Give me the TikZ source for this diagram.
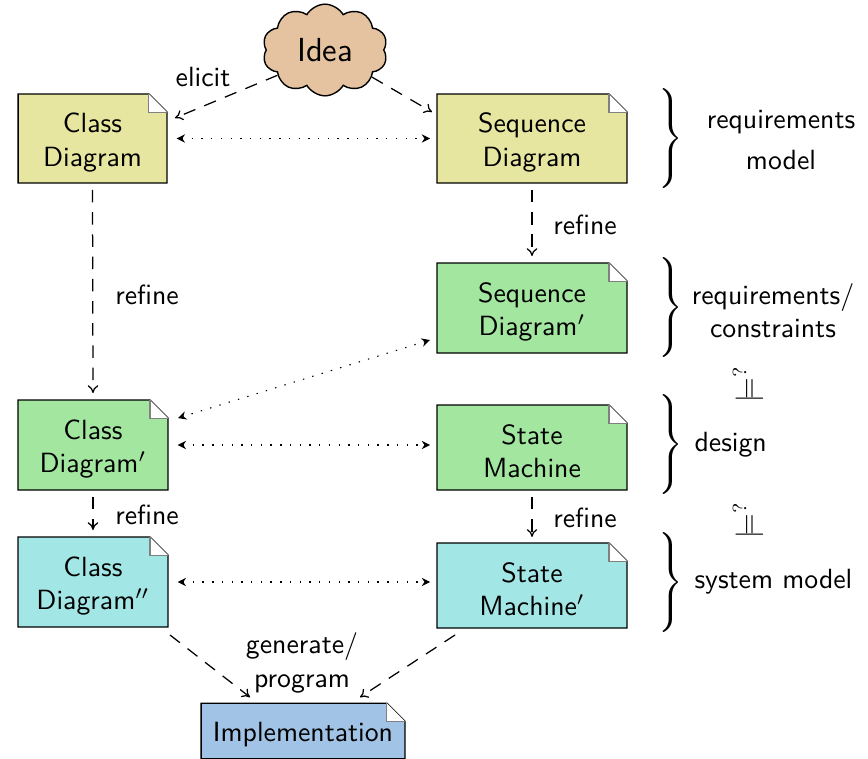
\documentclass[tikz,border=0pt]{standalone}
\usetikzlibrary{shapes.symbols,arrows.meta,backgrounds}
\definecolor{cyel}{RGB}{230,230,160}
\definecolor{cgrn}{RGB}{163,230,160}
\definecolor{ccyn}{RGB}{163,230,230}
\definecolor{cblu}{RGB}{160,195,230}
\definecolor{cpch}{RGB}{230,195,160}
\def\dogear{6.5pt}
\newcommand\docnode[6]{%
  \node[docbox, minimum width=#3, minimum height=#4] (#1) at #2 {};
  \node[doctext] (#1-t) at ([yshift=-1.4pt]#1.center) {#6};
  \begin{pgfonlayer}{background}
    \filldraw[fill=#5, draw=black, line width=0.5pt] (#1.north west) -- ([xshift=-\dogear]#1.north east) -- ([yshift=-\dogear]#1.north east) -- (#1.south east) -- (#1.south west) -- cycle;
    \filldraw[fill=white, draw=gray, thin] ([xshift=-\dogear]#1.north east) -- ([xshift=-\dogear,yshift=-\dogear]#1.north east) -- ([yshift=-\dogear]#1.north east);
  \end{pgfonlayer}}
\tikzset{
  docbox/.style={inner sep=0pt, outer sep=0pt},
  doctext/.style={align=center, font=\sffamily, inner sep=0pt, outer sep=0pt},
  lbl/.style={align=center, font=\sffamily, inner sep=0pt},
  flow/.style={-{To[length=2.8pt,width=3.8pt]}, line width=0.45pt, dash pattern=on 4.5pt off 3.5pt},
  link/.style={{Stealth[length=3pt,width=3pt]}-{Stealth[length=3pt,width=3pt]}, thin, dash pattern=on 0.5pt off 3pt},
  bracenode/.style={inner sep=0pt},
  modelsym/.style={inner sep=0pt}
}
\newcommand\bigbrace{$\left.\vrule height 16.5pt depth 16.5pt width 0pt\right\}$}
\begin{document}
\begin{tikzpicture}[x=0.36pt, y=-0.36pt]
\useasboundingbox (0,0) rectangle (868,758);
% idea cloud
\node[cloud, cloud puffs=10, cloud puff arc=120, aspect=1.4, draw, line width=0.5pt, fill=cpch,
      minimum width=45pt, minimum height=33pt, inner sep=0pt, font=\sffamily\large] (idea) at (325,50) {Idea};
% documents
\docnode{cd}{(92.5,138.5)}{53.6pt}{32pt}{cyel}{Class\\Diagram}
\docnode{sd}{(532,138.5)}{68.4pt}{32pt}{cyel}{Sequence\\Diagram}
\docnode{sdp}{(532,308)}{68.4pt}{32.4pt}{cgrn}{Sequence\\Diagram$'$}
\docnode{cdp}{(93,445)}{54pt}{32.4pt}{cgrn}{Class\\Diagram$'$}
\docnode{sm}{(532,447.5)}{68.4pt}{30.6pt}{cgrn}{State\\Machine}
\docnode{cdpp}{(93,582)}{54pt}{32.4pt}{ccyn}{Class\\Diagram$''$}
\docnode{smp}{(532,585.5)}{68.4pt}{30.6pt}{ccyn}{State\\Machine$'$}
\docnode{impl}{(303,731)}{73.4pt}{20pt}{cblu}{Implementation}
% connectors
\draw[flow] (idea.208) -- ([shift={(8,-20.5)}]cd.east);
\draw[flow] (idea.-30) -- ([shift={(-5,-26.5)}]sd.west);
\draw[link, shorten <=3.5pt, shorten >=2.5pt] (cd.east) -- (cd.east -| sd.west);
\draw[flow, shorten <=2.5pt, shorten >=2.5pt] (cd.south) -- (cdp.north);
\draw[flow, shorten <=2.5pt, shorten >=2.5pt] (sd.south) -- (sdp.north);
\draw[link] ([shift={(-7,-13)}]sdp.south west) -- ([shift={(10,18)}]cdp.north east);
\draw[link, shorten <=3.5pt, shorten >=2.5pt] (cdp.east) -- (cdp.east -| sm.west);
\draw[flow, shorten <=2.5pt, shorten >=2.5pt] (cdp.south) -- (cdpp.north);
\draw[flow, shorten <=2.5pt, shorten >=2.2pt] (sm.south) -- (smp.north);
\draw[link, shorten <=3.5pt, shorten >=2.5pt] (cdpp.east) -- (cdpp.east -| smp.west);
\draw[flow] ([shift={(2,8)}]cdpp.south east) -- ([shift={(49,-6)}]impl.north west);
\draw[flow] ([shift={(18,7)}]smp.south west) -- ([shift={(57,-6)}]impl.north);
% edge labels
\node[lbl] (l1) at (203,77) {elicit};
\node[lbl] (l2) at (147,295) {refine};
\node[lbl] (l3) at (585,225) {refine};
\node[lbl] (l4) at (147,515) {refine};
\node[lbl] (l5) at (585,518) {refine};
\node[lbl] (l6) at (302,663) {generate/\\program};
% braces and level labels
\node[bracenode] (b1) at (669,140) {\bigbrace};
\node[bracenode] (b2) at (669,309) {\bigbrace};
\node[bracenode] (b3) at (669,446) {\bigbrace};
\node[bracenode] (b4) at (669,584) {\bigbrace};
\node[lbl] (t1) at (781,140) {requirements\\[3pt]model};
\node[lbl] (t2) at (773,311) {requirements/\\constraints};
\node[lbl, anchor=west] (t3) at (694,445) {design};
\node[lbl, anchor=west] (t4) at (694,582) {system model};
\node[modelsym] (m1) at (748,384) {\rotatebox{90}{$\models^{?}$}};
\node[modelsym] (m2) at (748,520) {\rotatebox{90}{$\models^{?}$}};
\end{tikzpicture}
\end{document}
